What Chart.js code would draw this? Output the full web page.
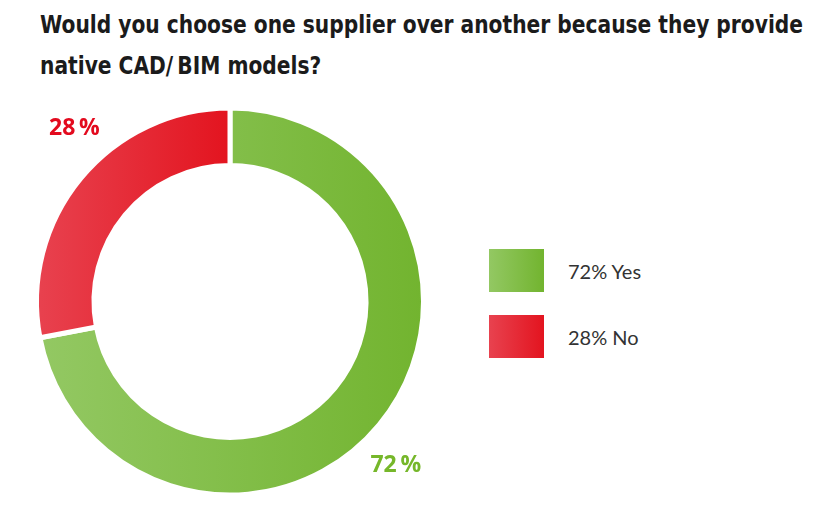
<!DOCTYPE html>
<html>
<head>
<meta charset="utf-8">
<script src="https://cdn.jsdelivr.net/npm/chart.js@4"></script>
<style>
  body { margin: 0; background: #fff; width: 825px; height: 519px; position: relative; overflow: hidden; }
  #title {
    position: absolute; left: 40px; top: 5px; margin: 0;
    font-family: "DejaVu Sans Condensed", "DejaVu Sans", sans-serif;
    font-weight: bold; font-size: 24px; line-height: 41px; color: #1b1b1b;
    white-space: nowrap; transform-origin: 0 0;
  }
  #chartBox { position: absolute; left: 0; top: 90px; width: 470px; height: 429px; }
  #legend { position: absolute; left: 489px; top: 249px; }
  .item { display: flex; align-items: center; height: 43px; margin-bottom: 23px; }
  .swatch { width: 55px; height: 43px; margin-right: 24px; }
  .item span { font-family: Lato, sans-serif; font-size: 20px; color: #333; }
</style>
</head>
<body>
<h1 id="title"><span id="line1">Would you choose one supplier over another because they provide</span><br>native CAD/&#8201;BIM models?</h1>
<div id="chartBox"><canvas id="donut" width="470" height="429"></canvas></div>
<div id="legend"></div>

<script>
const answers = ["Yes", "No"];
const shares = [72, 28];
const lightColors = ["#93c863", "#e8424f"];
const darkColors = ["#72b42f", "#e3141f"];
const labelColors = ["#76b72a", "#e30a1e"];

// squeeze the title to the narrow width of the original type
const title = document.getElementById("title");
const w1 = document.getElementById("line1").getBoundingClientRect().width;
title.style.transform = `scaleX(${763 / w1})`;

// legend on the right
const legend = document.getElementById("legend");
answers.forEach((a, i) => {
  const row = document.createElement("div");
  row.className = "item";
  row.innerHTML = `<div class="swatch" style="background:linear-gradient(to right, ${lightColors[i]}, ${darkColors[i]})"></div><span>${shares[i]}% ${a}</span>`;
  legend.appendChild(row);
});

// horizontal gradient over the x extent of each slice
function sliceFill(context) {
  const i = context.dataIndex;
  const chart = context.chart;
  const area = chart.chartArea;
  if (!area) return darkColors[i];
  const cx = (area.left + area.right) / 2;
  const r = chart.options.radius;
  const total = shares.reduce((s, v) => s + v, 0);
  const before = shares.slice(0, i).reduce((s, v) => s + v, 0);
  const a0 = -Math.PI / 2 + before / total * 2 * Math.PI;
  const a1 = a0 + shares[i] / total * 2 * Math.PI;
  let minX = Infinity, maxX = -Infinity;
  for (let k = 0; k <= 90; k++) {
    const x = Math.cos(a0 + (a1 - a0) * k / 90);
    minX = Math.min(minX, x);
    maxX = Math.max(maxX, x);
  }
  const g = chart.ctx.createLinearGradient(cx + minX * r, 0, cx + maxX * r, 0);
  g.addColorStop(0, lightColors[i]);
  g.addColorStop(1, darkColors[i]);
  return g;
}

// percent labels outside the ring
const outsideLabels = {
  id: "outsideLabels",
  afterDatasetsDraw(chart, args, opts) {
    const ctx = chart.ctx;
    const meta = chart.getDatasetMeta(0);
    ctx.save();
    ctx.font = "bold 23px 'Open Sans', sans-serif";
    ctx.textAlign = "center";
    ctx.textBaseline = "middle";
    meta.data.forEach((arc, i) => {
      const mid = (arc.startAngle + arc.endAngle) / 2 + opts.turn[i] * Math.PI / 180;
      const r = arc.outerRadius * opts.factor;
      ctx.fillStyle = labelColors[i];
      ctx.fillText(shares[i] + "\u2009%", arc.x + Math.cos(mid) * r, arc.y + Math.sin(mid) * r);
    });
    ctx.restore();
  }
};

new Chart(document.getElementById("donut"), {
  type: "doughnut",
  data: {
    labels: answers,
    datasets: [{
      data: shares,
      backgroundColor: sliceFill,
      borderColor: "#ffffff",
      borderWidth: 5,
      borderJoinStyle: "miter",
      hoverOffset: 0
    }]
  },
  options: {
    responsive: false,
    animation: false,
    radius: 193.5,
    cutout: "70.3%",
    layout: { padding: { left: 0, top: 0, right: 10, bottom: 6 } },
    plugins: {
      legend: { display: false },
      tooltip: { enabled: false },
      outsideLabels: { factor: 1.204, turn: [5, 8.5] }
    }
  },
  plugins: [outsideLabels]
});
</script>
</body>
</html>
